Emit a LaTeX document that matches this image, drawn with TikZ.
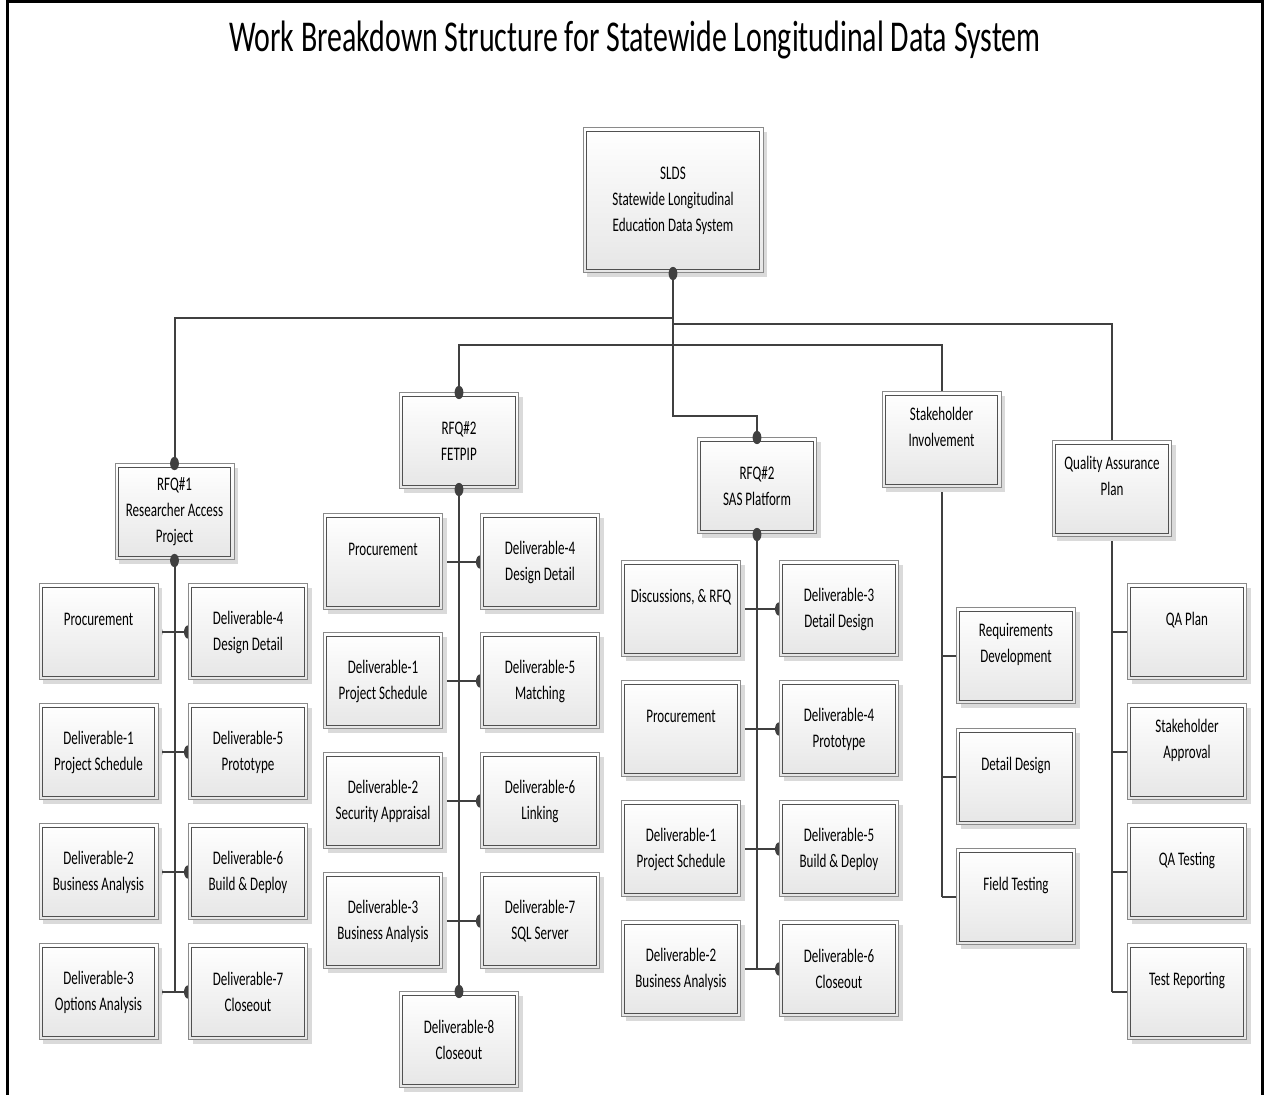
\documentclass[tikz,border=0pt]{standalone}
\usepackage{fontspec}
\setmainfont{Carlito}[FakeStretch=0.68]
\usetikzlibrary{shadows,backgrounds}

\definecolor{boxedge}{HTML}{8A8A8A}
\definecolor{boxline}{HTML}{505050}
\definecolor{boxfill}{HTML}{E6E6E6}
\definecolor{boxshade}{HTML}{DADADA}
\definecolor{linkc}{HTML}{404040}

\tikzset{
  wbsbox/.style={rectangle, draw=boxedge, line width=0.5pt,
    top color=white, bottom color=boxfill,
    minimum width=59.5pt, minimum height=48pt, inner sep=1pt, align=center,
    font=\fontsize{9.6}{13}\selectfont,
    drop shadow={shadow xshift=2pt, shadow yshift=-2pt, fill=boxshade, opacity=1},
    path picture={\draw[boxline, line width=0.5pt]
      ([shift={(1.6pt,-1.6pt)}]path picture bounding box.north west) rectangle
      ([shift={(-1.6pt,1.6pt)}]path picture bounding box.south east);}},
  link/.style={draw=linkc, line width=1pt},
  dotc/.style={fill=linkc}
}

\begin{document}
\begin{tikzpicture}[x=0.5pt, y=-0.5pt]
  \useasboundingbox (0,0) rectangle (1265,1095);

  % page frame, open at the bottom
  \draw[line width=1.5pt] (7,1095) -- (7,2) -- (1262,2) -- (1262,1095);

  % title
  \node (title) at (635,40) {\fontsize{22}{26}\selectfont Work Breakdown Structure for Statewide Longitudinal Data System};

  % top level
  \node[wbsbox, minimum width=90pt, minimum height=72.5pt] (root) at (673,200.5)
    {SLDS\\Statewide Longitudinal\\Education Data System};

  \node[wbsbox] (rfq1)   at (174.5,512) {RFQ\#1\\Researcher Access\\Project};
  \node[wbsbox] (fetpip) at (459,441)   {RFQ\#2\\FETPIP};
  \node[wbsbox] (sas)    at (757,486)   {RFQ\#2\\SAS Platform};
  \node[wbsbox] (stake)  at (941.5,440) {Stakeholder\\Involvement\\\mbox{}};
  \node[wbsbox] (qa)     at (1112,489)  {Quality Assurance\\Plan\\\mbox{}};

  % RFQ#1 work packages
  \node[wbsbox] (raP) at (98.5,632) {Procurement\\\mbox{}};
  \node[wbsbox] (ra1) at (98.5,752) {Deliverable-1\\Project Schedule};
  \node[wbsbox] (ra2) at (98.5,872) {Deliverable-2\\Business Analysis};
  \node[wbsbox] (ra3) at (98.5,992) {Deliverable-3\\Options Analysis};
  \node[wbsbox] (ra4) at (248,632)  {Deliverable-4\\Design Detail};
  \node[wbsbox] (ra5) at (248,752)  {Deliverable-5\\Prototype};
  \node[wbsbox] (ra6) at (248,872)  {Deliverable-6\\Build \& Deploy};
  \node[wbsbox] (ra7) at (248,992)  {Deliverable-7\\Closeout};

  % FETPIP work packages
  \node[wbsbox] (feP) at (383,562) {Procurement\\\mbox{}};
  \node[wbsbox] (fe1) at (383,681) {Deliverable-1\\Project Schedule};
  \node[wbsbox] (fe2) at (383,801) {Deliverable-2\\Security Appraisal};
  \node[wbsbox] (fe3) at (383,921) {Deliverable-3\\Business Analysis};
  \node[wbsbox] (fe4) at (540,562) {Deliverable-4\\Design Detail};
  \node[wbsbox] (fe5) at (540,681) {Deliverable-5\\Matching};
  \node[wbsbox] (fe6) at (540,801) {Deliverable-6\\Linking};
  \node[wbsbox] (fe7) at (540,921) {Deliverable-7\\SQL Server};
  \node[wbsbox] (fe8) at (459,1040) {Deliverable-8\\Closeout};

  % SAS platform work packages
  \node[wbsbox] (saD) at (681,609) {Discussions, \& RFQ\\\mbox{}};
  \node[wbsbox] (saP) at (681,729) {Procurement\\\mbox{}};
  \node[wbsbox] (sa1) at (681,849) {Deliverable-1\\Project Schedule};
  \node[wbsbox] (sa2) at (681,969) {Deliverable-2\\Business Analysis};
  \node[wbsbox] (sa3) at (839,609) {Deliverable-3\\Detail Design};
  \node[wbsbox] (sa4) at (839,729) {Deliverable-4\\Prototype};
  \node[wbsbox] (sa5) at (839,849) {Deliverable-5\\Build \& Deploy};
  \node[wbsbox] (sa6) at (839,969) {Deliverable-6\\Closeout};

  % stakeholder work packages
  \node[wbsbox] (shR) at (1016,656) {Requirements\\Development\\\mbox{}};
  \node[wbsbox] (shD) at (1016,777) {Detail Design\\\mbox{}};
  \node[wbsbox] (shF) at (1016,897) {Field Testing\\\mbox{}};

  % QA work packages
  \node[wbsbox] (qaP) at (1187,632) {QA Plan\\\mbox{}};
  \node[wbsbox] (qaS) at (1187,752) {Stakeholder\\Approval\\\mbox{}};
  \node[wbsbox] (qaT) at (1187,872) {QA Testing\\\mbox{}};
  \node[wbsbox] (qaR) at (1187,992) {Test Reporting\\\mbox{}};

  % junctions on the root trunk
  \coordinate (jL) at (673,318);
  \coordinate (jR) at (673,324);
  \coordinate (jM) at (673,345);
  \coordinate (jS) at (673,416);

  \begin{scope}[on background layer]
    % root to first level
    \draw[link] (root.south) -- (jS) -| (sas.north);
    \draw[link] (jL) -| (rfq1.north);
    \draw[link] (jR) -| (qa.north);
    \draw[link] (fetpip.north) |- (jM) -| (stake.north);

    % trunks
    \draw[link] (rfq1.south) -- (rfq1.south |- ra7.west);
    \draw[link] (fetpip.south) -- (fe8.north);
    \draw[link] (sas.south) -- (sas.south |- sa6.west);
    \draw[link] (stake.south) -- (stake.south |- shF.west);
    \draw[link] (qa.south) -- (qa.south |- qaR.west);

    % branches with end dots
    \foreach \a/\b in {raP/ra4, ra1/ra5, ra2/ra6, ra3/ra7,
                       feP/fe4, fe1/fe5, fe2/fe6, fe3/fe7,
                       saD/sa3, saP/sa4, sa1/sa5, sa2/sa6} {
      \draw[link] (\a.east) -- (\b.west);
      \fill[dotc] (\a.east) ellipse [x radius=2pt, y radius=3.3pt];
      \fill[dotc] (\b.west) ellipse [x radius=2pt, y radius=3.3pt];
    }

    % branches without dots
    \foreach \b in {shR, shD, shF}
      \draw[link] (stake.south |- \b.west) -- (\b.west);
    \foreach \b in {qaP, qaS, qaT, qaR}
      \draw[link] (qa.south |- \b.west) -- (\b.west);
  \end{scope}

  % dots on the vertical joins
  \foreach \p in {root.south, rfq1.north, rfq1.south, fetpip.north,
                  fetpip.south, fe8.north, sas.north, sas.south}
    \fill[dotc] (\p) ellipse [x radius=2.2pt, y radius=3.3pt];
\end{tikzpicture}
\end{document}
